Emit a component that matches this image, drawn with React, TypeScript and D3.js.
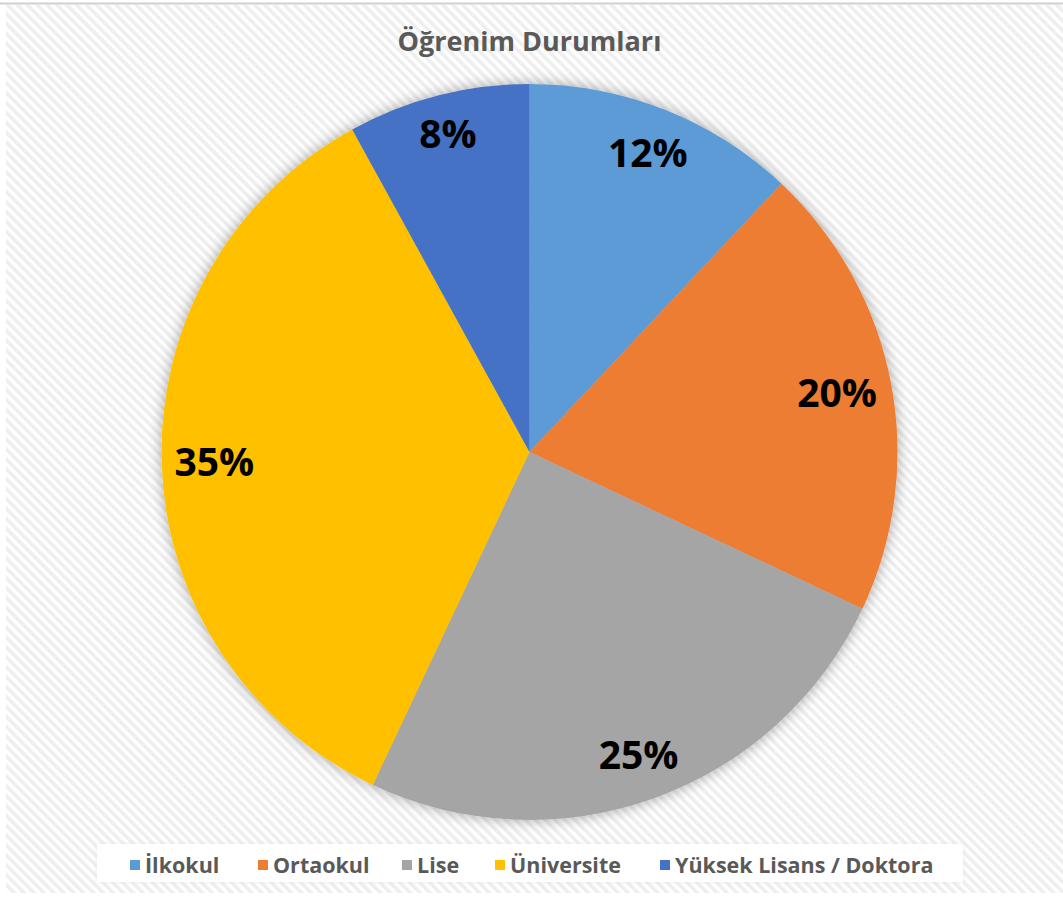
import React from "react";
import * as d3 from "d3";

const title = "Öğrenim Durumları";
const categories = ["İlkokul", "Ortaokul", "Lise", "Üniversite", "Yüksek Lisans / Doktora"];
const values = [12, 20, 25, 35, 8];
const colors = ["#5B9BD5", "#ED7D31", "#A5A5A5", "#FFC000", "#4472C4"];
const legendX = [130, 258, 402, 495, 660];

const W = 1063;
const H = 897;
const cx = 529.5;
const cy = 452;
const R = 368;
const FONT = "'Open Sans', 'DejaVu Sans', sans-serif";

export default function App() {
  const total = d3.sum(values);
  const pie = d3.pie<number>().sort(null).value((d) => d)(values);
  const arc = d3.arc<d3.PieArcDatum<number>>().innerRadius(0).outerRadius(R);
  const labelFont = 39;
  const pad = 17;

  return (
    <svg width={W} height={H} style={{ position: "absolute", left: 0, top: 0 }}>
      <defs>
        <pattern id="stripes" width="7" height="7" patternUnits="userSpaceOnUse" patternTransform="rotate(-45)">
          <rect width="7" height="7" fill="#ffffff" />
          <rect width="3.5" height="7" fill="#eeeeee" />
        </pattern>
        <filter id="shadow" x="-20%" y="-20%" width="140%" height="140%">
          <feDropShadow dx="0" dy="0" stdDeviation="7" floodColor="#000" floodOpacity="0.35" />
        </filter>
        <filter id="legShadow" x="-5%" y="-50%" width="110%" height="200%">
          <feGaussianBlur stdDeviation="2" />
        </filter>
      </defs>
      <rect x={0} y={0} width={W} height={H} fill="#ffffff" />
      <rect x={6} y={5} width={W - 6} height={H - 9} fill="url(#stripes)" />
      <line x1={0} x2={W} y1={3.5} y2={3.5} stroke="#d0d0d0" strokeWidth={2} />
      <text
        x={cx}
        y={51}
        textAnchor="middle"
        fontFamily={FONT}
        fontWeight="bold"
        fontSize={27}
        fill="#595959"
      >
        {title}
      </text>
      <g transform={`translate(${cx},${cy})`}>
        <g filter="url(#shadow)">
          {pie.map((d, i) => (
            <path key={i} d={arc(d) || ""} fill={colors[i]} />
          ))}
        </g>
        {pie.map((d, i) => {
          const a = (d.startAngle + d.endAngle) / 2;
          const txt = `${Math.round((d.data / total) * 100)}%`;
          const halfW = (txt.length * 0.6 * labelFont) / 2;
          const halfH = 18;
          const ext = Math.abs(Math.sin(a)) * halfW + Math.abs(Math.cos(a)) * halfH;
          const r = R - pad - ext;
          const x = Math.sin(a) * r;
          const y = -Math.cos(a) * r;
          return (
            <text
              key={i}
              x={x}
              y={y}
              dy="0.35em"
              textAnchor="middle"
              fontFamily={FONT}
              fontWeight="bold"
              fontSize={labelFont}
              fill="#000000"
            >
              {txt}
            </text>
          );
        })}
      </g>
      <rect x={97} y={844} width={866} height={38} fill="#dddddd" filter="url(#legShadow)" opacity={0.5} />
      <rect x={97} y={844} width={866} height={38} fill="#ffffff" />
      {categories.map((c, i) => (
        <g key={i} transform={`translate(${legendX[i]},865)`}>
          <rect x={0} y={-5} width={10} height={10} fill={colors[i]} />
          <text x={15} y={0} dy="0.35em" fontFamily={FONT} fontWeight="bold" fontSize={21.5} fill="#595959">
            {c}
          </text>
        </g>
      ))}
    </svg>
  );
}
